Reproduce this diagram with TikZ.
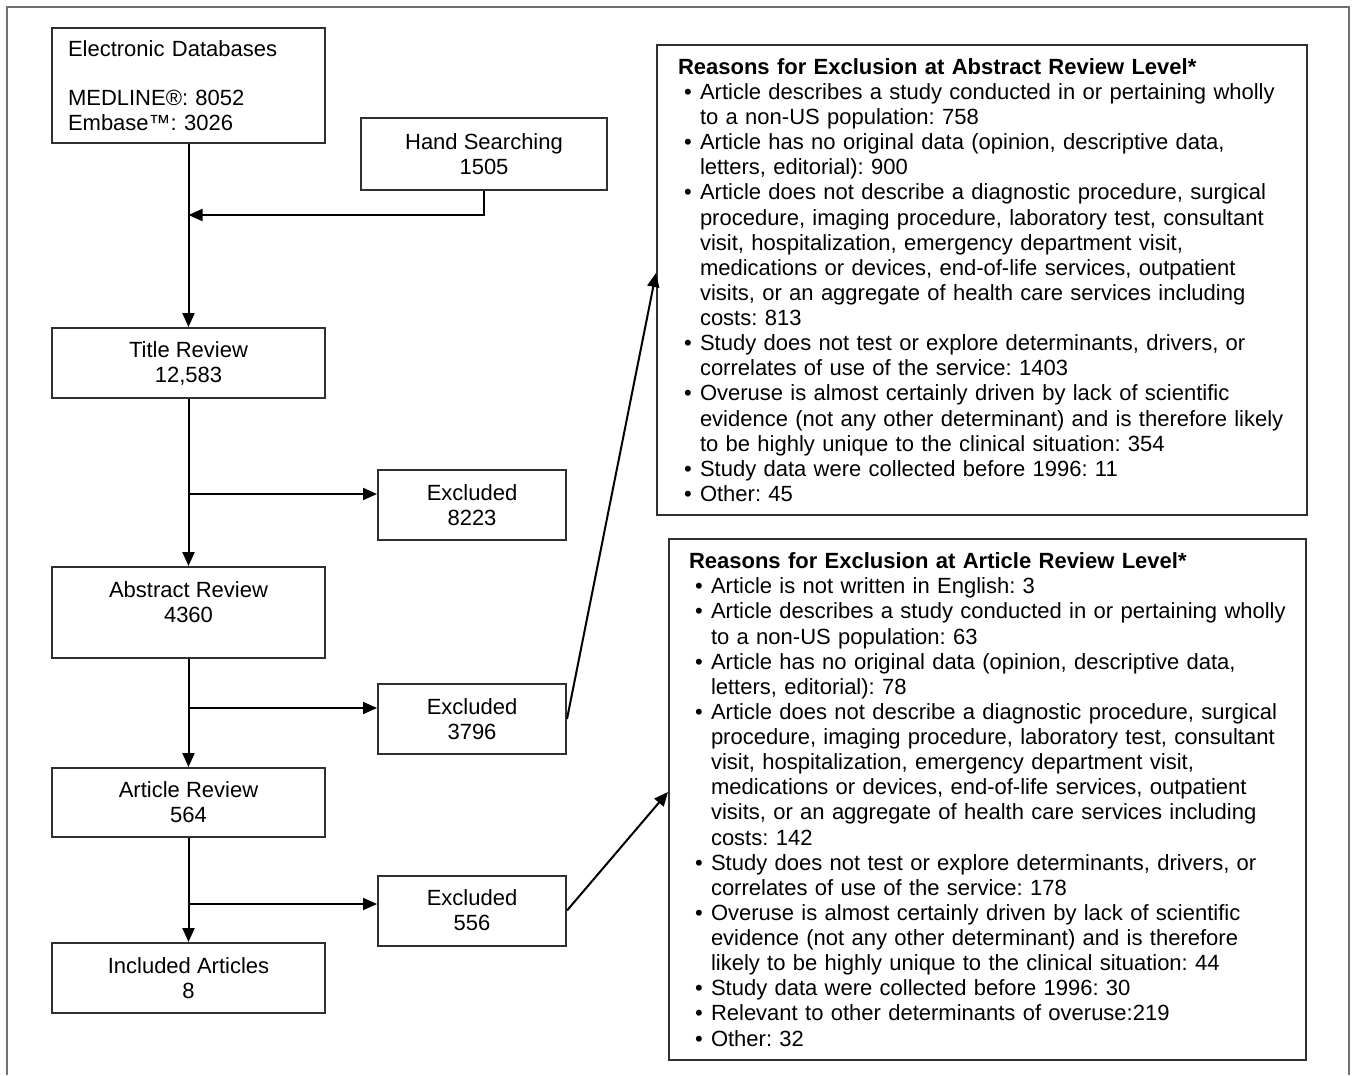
\documentclass[tikz,border=0pt]{standalone}
\usepackage{fontspec}
\setmainfont{Liberation Sans}
\usetikzlibrary{arrows.meta, positioning, calc}
\definecolor{frame}{HTML}{707070}
\definecolor{edge}{HTML}{303030}
\frenchspacing
\newcommand{\reasonhead}[1]{\rightskip=-8pt plus 1fil\parindent=0pt\noindent\textbf{#1}}
\newcommand{\reason}[1]{\par\hangindent=11pt\noindent\makebox[11pt][l]{\hspace{3pt}\textbullet}#1}

\begin{document}
\begin{tikzpicture}[
  x=0.5pt, y=-0.5pt,
  box/.style={rectangle, draw=edge, line width=1pt, minimum width=136.5pt,
              minimum height=35pt, inner sep=0pt, align=center,
              font=\fontsize{11}{12.5}\selectfont},
  excl/.style={box, minimum width=94pt},
  reasons/.style={rectangle, draw=edge, line width=1pt, inner ysep=0pt,
                  font=\fontsize{11}{12.56}\selectfont},
  arr/.style={-{Triangle[length=7pt,width=6pt]}, line width=1pt},
]
  \useasboundingbox (0,0) rectangle (1353,1075);
  \draw[frame, line width=0.8pt] (7,1075) -- (7,7) -- (1349,7) -- (1349,1075);

  % main column
  \node[box, minimum height=57.5pt, text width=120.5pt, inner xsep=8pt, align=left]
    (db) at (188.5,85.5) {Electronic Databases\\[12pt]MEDLINE®: 8052\\Embase™: 3026};
  \node[box, minimum width=123pt, minimum height=36pt] (hand) at (484,154) {Hand Searching\\1505};
  \node[box, below=91.5pt of db]                       (title) {Title Review\\12,583};
  \node[box, below=83.5pt of title, minimum height=45.5pt] (abs) {Abstract Review\\4360\\[-2.5pt]\mbox{}};
  \node[box, below=54pt of abs, minimum height=34.5pt]     (art) {Article Review\\564};
  \node[box, below=52pt of art]                        (inc) {Included Articles\\8};

  % excluded
  \node[excl] (ex1) at (472,505)   {Excluded\\8223};
  \node[excl] (ex2) at (472,719)   {Excluded\\3796};
  \node[excl] (ex3) at (472,910.5) {Excluded\\556};

  % reasons
  \node[reasons, text width=304pt, inner xsep=10.5pt, minimum height=235pt] (absr) at (982,280) {%
    \reasonhead{Reasons for Exclusion at Abstract Review Level*}
    \reason{Article describes a study conducted in or pertaining wholly\newline to a non-US population: 758}
    \reason{Article has no original data (opinion, descriptive data,\newline letters, editorial): 900}
    \reason{Article does not describe a diagnostic procedure, surgical\newline procedure, imaging procedure, laboratory test, consultant\newline visit, hospitalization, emergency department visit,\newline medications or devices, end-of-life services, outpatient\newline visits, or an aggregate of health care services including\newline costs: 813}
    \reason{Study does not test or explore determinants, drivers, or\newline correlates of use of the service: 1403}
    \reason{Overuse is almost certainly driven by lack of scientific\newline evidence (not any other determinant) and is therefore likely\newline to be highly unique to the clinical situation: 354}
    \reason{Study data were collected before 1996: 11}
    \reason{Other: 45}};
  \node[reasons, text width=298.5pt, inner xsep=10pt, minimum height=260.5pt] (artr) at (987.5,799.5) {%
    \reasonhead{Reasons for Exclusion at Article Review Level*}
    \reason{Article is not written in English: 3}
    \reason{Article describes a study conducted in or pertaining wholly\newline to a non-US population: 63}
    \reason{Article has no original data (opinion, descriptive data,\newline letters, editorial): 78}
    \reason{Article does not describe a diagnostic procedure, surgical\newline procedure, imaging procedure, laboratory test, consultant\newline visit, hospitalization, emergency department visit,\newline medications or devices, end-of-life services, outpatient\newline visits, or an aggregate of health care services including\newline costs: 142}
    \reason{Study does not test or explore determinants, drivers, or\newline correlates of use of the service: 178}
    \reason{Overuse is almost certainly driven by lack of scientific\newline evidence (not any other determinant) and is therefore\newline likely to be highly unique to the clinical situation: 44}
    \reason{Study data were collected before 1996: 30}
    \reason{Relevant to other determinants of overuse:219}
    \reason{Other: 32}};

  % flow
  \coordinate (join) at (188.5,215);
  \coordinate (b1) at (188.5,494);
  \coordinate (b2) at (188.5,708);
  \coordinate (b3) at (188.5,904);

  \draw[arr] (db) -- (title);
  \draw[arr] (hand.south) |- (join);
  \draw[arr] (title) -- (abs);
  \draw[arr] (abs) -- (art);
  \draw[arr] (art) -- (inc);
  \draw[arr] (b1) -- (b1 -| ex1.west);
  \draw[arr] (b2) -- (b2 -| ex2.west);
  \draw[arr] (b3) -- (b3 -| ex3.west);
  \draw[arr] (ex2.east) -- ([yshift=3.5pt]absr.west);
  \draw[arr] (ex3.east) -- ([yshift=3.75pt]artr.west);
\end{tikzpicture}
\end{document}
